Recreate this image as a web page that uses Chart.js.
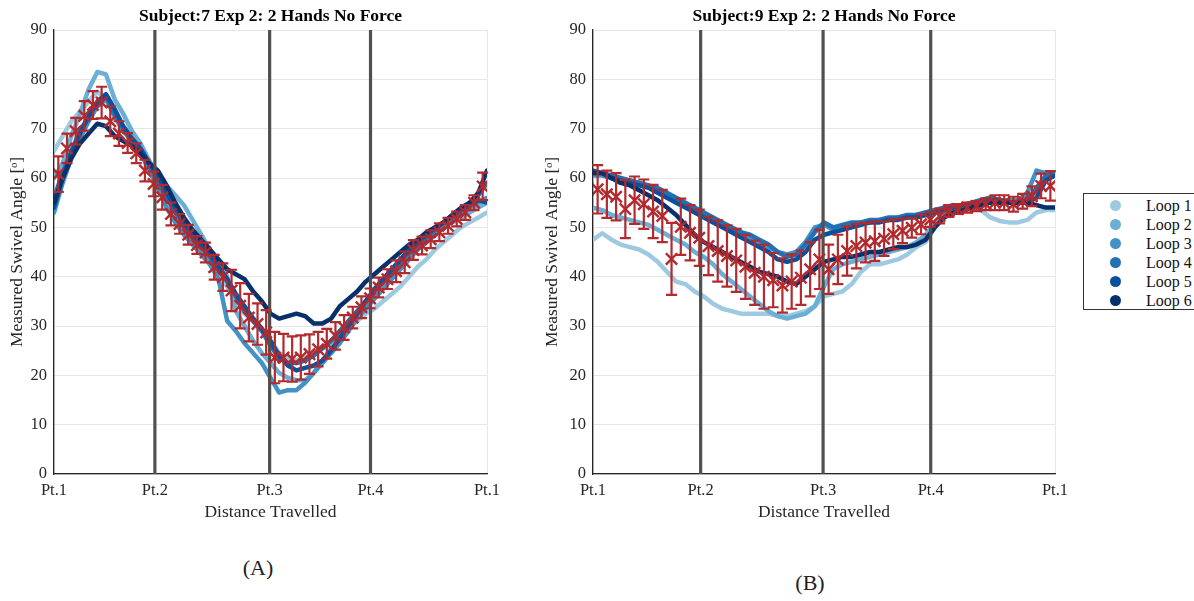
<!DOCTYPE html>
<html lang="en">
<head>
    <meta charset="UTF-8">
    <title>Measured Swivel Angle</title>
    <script src="https://cdn.jsdelivr.net/npm/chart.js"></script>
    <style>
        body {
            margin: 0;
            width: 1194px;
            height: 601px;
            position: relative;
            overflow: hidden;
            background: #fff;
            font-family: "Liberation Serif", serif;
        }

        .panel {
            position: absolute;
            top: 0;
        }

        .caption {
            position: absolute;
            font-size: 22px;
            color: #222;
            transform: translate(-50%, -50%);
        }

        #legend {
            position: absolute;
            left: 1083px;
            top: 193px;
            width: 130px;
            height: 117px;
            border: 1px solid #333;
            box-sizing: border-box;
            padding-top: 2px;
        }

        .legend-row {
            height: 19px;
            position: relative;
            font-size: 16px;
            color: #111;
        }

        .legend-dot {
            position: absolute;
            left: 26px;
            top: 4px;
            width: 11px;
            height: 11px;
            border-radius: 50%;
        }

        .legend-text {
            position: absolute;
            left: 62px;
            top: 0;
            line-height: 19px;
        }
    </style>
</head>
<body>
<div class="panel" style="left:0;"><canvas id="chartA" width="510" height="530"></canvas></div>
<div class="panel" style="left:540px;"><canvas id="chartB" width="540" height="530"></canvas></div>
<div class="caption" style="left:258px; top:568px;">(A)</div>
<div class="caption" style="left:810px; top:583px;">(B)</div>
<div id="legend"></div>

<script>
    // x positions (% of distance travelled)
    const xGrid = [0, 2, 4, 6, 8, 10, 12, 14, 16, 18, 20, 22, 24, 26, 28, 30, 32, 34, 36, 38, 40, 42, 44, 46, 48, 50,
        52, 54, 56, 58, 60, 62, 64, 66, 68, 70, 72, 74, 76, 78, 80, 82, 84, 86, 88, 90, 92, 94, 96, 98, 100];
    const meanX = [1, 3, 5, 7, 9, 11, 13, 15, 17, 19, 21, 23, 25, 27, 29, 31, 33, 35, 37, 39, 41, 43, 45, 47, 49,
        51, 53, 55, 57, 59, 61, 63, 65, 67, 69, 71, 73, 75, 77, 79, 81, 83, 85, 87, 89, 91, 93, 95, 97, 99];

    const ptPos = [0, 23.3, 49.8, 73.1, 100];
    const ptLabels = ['Pt.1', 'Pt.2', 'Pt.3', 'Pt.4', 'Pt.1'];
    const yRange = [0, 90];

    const loopNames = ['Loop 1', 'Loop 2', 'Loop 3', 'Loop 4', 'Loop 5', 'Loop 6'];
    const loopColors = ['#9ecae1', '#6baed6', '#4292c6', '#2171b5', '#08519c', '#08306b'];

    // Subject 7
    const s7Loop1 = [65.5, 68.5, 71.5, 73.5, 75.5, 77.5, 76, 73, 70.5, 68.5, 66, 62, 58.5, 55, 52, 49.5, 47, 45, 43, 41,
        38, 35, 32.5, 31, 29, 27, 24.5, 23.5, 23, 23.5, 24.5, 25.5, 26.5, 28, 29.5, 31, 32.5, 33.5, 35, 36.5, 38, 40, 42,
        43.5, 45.5, 47, 48.5, 50, 51, 52, 53];
    const s7Loop2 = [60, 63, 68.5, 73, 78, 81.5, 81, 76, 73, 69.5, 67, 63.5, 60.5, 58.5, 56.5, 54.5, 51.5, 48.5, 45.5, 43,
        40, 33, 30, 27, 24.5, 22.5, 20.5, 19.5, 19, 19, 20.5, 23, 25.5, 28, 30, 32, 34, 36, 38, 40, 42, 44, 45.5, 47,
        48.5, 50, 51, 52, 53, 54, 55];
    const s7Loop3 = [53, 59, 64, 68, 71.5, 74.5, 76, 72.5, 69.5, 67.5, 65, 61.5, 58, 54, 51, 48.5, 46.5, 44.5, 42.5, 39.5,
        31, 29, 26.5, 24.5, 22.5, 19.5, 16.5, 17, 17, 18.5, 20.5, 22.5, 24.5, 26.5, 29, 31.5, 33.5, 35.5, 37.5, 39.5,
        41.5, 43.5, 45.5, 47, 48.5, 50, 51.5, 52.5, 54, 55, 56];
    const s7Loop4 = [56, 61, 65.5, 69.5, 72.5, 75, 76.5, 73, 70, 67.5, 65.5, 62.5, 59.5, 56, 53, 50.5, 48, 46, 44, 41.5,
        39, 36, 33, 31, 29, 26, 23.5, 22.5, 22.5, 23, 24, 25.5, 27, 29, 31, 33, 35, 37, 39, 41, 43, 45, 46.5, 48, 49.5,
        51, 52, 53.5, 55, 56.5, 59];
    const s7Loop5 = [54, 60, 65, 69, 72.5, 75.5, 77, 74, 70.5, 68, 66, 63, 60.5, 57, 54, 51, 48.5, 46.5, 44.5, 42, 39.5,
        36.5, 34, 31.5, 29.5, 27, 24, 22, 21, 21.5, 22, 23, 25, 27.5, 30, 32.5, 35, 37.5, 39.5, 41.5, 43.5, 45.5, 47,
        48.5, 50, 51, 52.5, 53.5, 54.5, 55.5, 55];
    const s7Loop6 = [55, 60, 64, 67, 69, 71, 70.5, 68.5, 67.5, 66.5, 65, 63, 61.5, 58.5, 55, 52, 49.5, 47.5, 45.5, 43.5,
        41.5, 40.5, 39.5, 37, 35, 32.5, 31.5, 32, 32.5, 32, 30.5, 30.5, 31.5, 34, 35.5, 37, 39, 40.5, 42, 43.5, 45, 46.5,
        47.5, 49, 50, 51, 52.5, 54, 55, 57, 61.5];
    const s7Mean = [60.8, 66, 69.5, 72.6, 74.8, 75.3, 71.5, 69, 67.1, 65, 61.5, 58.8, 56.1, 52.7, 50.7, 48.5, 46.4, 44.9,
        41.9, 39.9, 37.2, 34.1, 31.7, 30.4, 28.7, 23.6, 23.6, 23.3, 23.6, 24.3, 25.3, 26.4, 28, 29.7, 31.7, 33.8, 35.6,
        37.8, 39.5, 41.1, 42.9, 45.4, 46.3, 47.6, 49, 50.3, 51.7, 53, 55, 58.3];
    const s7Err = [3.6, 3, 2.7, 3, 2.8, 3.2, 3, 2.5, 2, 2, 2.2, 2.5, 2.5, 2.3, 2, 2, 1.8, 2, 2.5, 2.8, 4.2, 4.6, 4.8, 4.2,
        4.5, 5.2, 4.8, 4.6, 4.5, 4, 3.5, 3, 2.8, 2.5, 2.2, 2.2, 2, 2, 2, 2.2, 2.2, 2, 1.8, 1.8, 1.8, 1.6, 1.5, 1.5, 1.5,
        2.8];

    // Subject 9
    const s9Loop1 = [47.5, 48.8, 47.5, 46.5, 46, 45.5, 44.5, 43, 41, 39, 38.5, 37, 36, 34.5, 33.5, 33, 32.5, 32.5, 32.5,
        32.5, 32, 32, 32.5, 33, 34, 36, 36.5, 37, 38.5, 41, 42.5, 42.5, 43, 43.5, 44.5, 46, 47, 50, 52, 53, 53.5, 54,
        53.5, 52, 51.3, 51, 51, 51.5, 53, 53.5, 53.5];
    const s9Loop2 = [54, 53.5, 52.5, 52, 51.5, 51, 50.5, 49.5, 48.5, 47.5, 46.5, 45, 44, 42.5, 40.5, 39, 37.5, 36, 34.5,
        33, 32, 31.5, 32, 32.5, 34, 38, 41.5, 42.5, 43, 43.5, 44, 44.5, 45, 45.5, 46, 47, 48.5, 51, 52.5, 53.5, 54, 54.5,
        55, 55.5, 55, 55, 55, 55.5, 57.5, 60, 60.5];
    const s9Loop3 = [60.5, 60.5, 60, 59.5, 59.5, 59, 58.5, 57.5, 56.5, 55.5, 54.5, 53.5, 52.5, 51.5, 50.5, 49.5, 49, 48,
        47, 46, 45, 44.5, 45, 47, 50, 50.5, 49.5, 50, 50.5, 51, 51, 51.5, 51.5, 52, 52, 52.5, 53, 53.5, 54, 54.5, 54.5,
        55, 55.5, 56, 55.5, 55.5, 55.5, 57, 61.5, 61, 60.5];
    const s9Loop4 = [61, 61, 60.5, 60, 59.5, 59, 58.5, 58, 57, 56, 55, 54, 53, 52, 51, 50, 49, 48.5, 47.5, 46.5, 45, 44,
        44.5, 46.5, 49, 51, 50, 50.5, 51, 51, 51.5, 51.5, 52, 52, 52.5, 52.5, 53, 53.5, 54, 54.5, 54.5, 55, 55.5, 56,
        55.5, 55, 55, 55.5, 58, 60.5, 61];
    const s9Loop5 = [61.5, 61, 60, 59.5, 59, 58.5, 58, 57, 56, 55, 54, 53, 52, 51, 50, 49, 48, 47, 46, 45, 43.5, 43, 43.5,
        45, 47.5, 48.5, 49, 49.5, 50, 50.5, 51, 51, 51.5, 51.5, 52, 52, 52.5, 53, 53.5, 54, 54.5, 54.5, 55, 55.5, 55.5,
        55, 55, 55, 56, 59.5, 60.5];
    const s9Loop6 = [61, 61, 60, 59, 58.5, 57.5, 56.5, 55.5, 54, 52.5, 50.5, 48.5, 47, 46, 45, 44, 43, 42, 41, 40.5, 40,
        39, 38.5, 40, 41.5, 43, 43.5, 44, 44, 44.5, 45, 45, 45.5, 46, 46, 46.5, 47.5, 50, 52, 53, 53.5, 54, 54.5, 55, 55,
        55, 55, 55, 54.5, 54, 54];
    const s9Mean = [57.7, 56.7, 56.2, 53.7, 55.5, 54.7, 53.2, 52.3, 43.6, 50.1, 48.9, 47.9, 46.2, 45.2, 44.2, 43.3, 42,
        40.8, 40, 39.3, 38.2, 39, 39.8, 41.5, 43.5, 41.5, 43.5, 45.2, 46.2, 46.9, 47.2, 47.7, 48.6, 49.3, 49.9, 50.6,
        51.6, 52.3, 53.3, 53.7, 54, 54.3, 54.7, 55, 55, 54.7, 55.3, 56.3, 58.4, 58.4];
    const s9Err = [4.9, 4.8, 4.8, 5.9, 4.8, 5, 5.4, 5.3, 7.3, 5.7, 5.6, 5.7, 5.9, 6.2, 6.2, 6.4, 6.5, 6.5, 6.5, 5.5, 5.5,
        5.5, 5.5, 5.5, 6, 5, 5, 5, 4.5, 4, 4, 3.5, 3, 2.5, 2, 2, 1.5, 1.5, 1.2, 1, 1, 1, 1.2, 1.5, 1.5, 1.5, 1.5, 2, 2.5,
        3];

    const serif = 'Liberation Serif';
    const red = '#b2292e';
    const axisColor = '#262626';
    const gridColor = '#e6e6e6';

    // draws the vertical error bars of any dataset that carries an "errors" array
    const errorBarPlugin = {
        id: 'errorBars',
        afterDatasetsDraw(chart) {
            const ctx = chart.ctx;
            const xs = chart.scales.x, ys = chart.scales.y;
            chart.data.datasets.forEach(ds => {
                if (!ds.errors) return;
                ctx.save();
                ctx.strokeStyle = ds.borderColor;
                ctx.lineWidth = 2.2;
                ds.data.forEach((p, i) => {
                    const px = xs.getPixelForValue(p.x);
                    const top = ys.getPixelForValue(p.y + ds.errors[i]);
                    const bot = ys.getPixelForValue(p.y - ds.errors[i]);
                    ctx.beginPath();
                    ctx.moveTo(px, top);
                    ctx.lineTo(px, bot);
                    ctx.moveTo(px - 5.5, top);
                    ctx.lineTo(px + 5.5, top);
                    ctx.moveTo(px - 5.5, bot);
                    ctx.lineTo(px + 5.5, bot);
                    ctx.stroke();
                });
                ctx.restore();
            });
        }
    };

    function buildDatasets(loops, mean, err) {
        const sets = [{
            label: 'Mean',
            data: meanX.map((x, i) => ({x, y: mean[i]})),
            showLine: false,
            pointStyle: 'crossRot',
            pointRadius: 8,
            pointBorderWidth: 2.4,
            borderColor: red,
            backgroundColor: red,
            errors: err,
            order: 0
        }];
        ptPos.slice(1, 4).forEach(p => sets.push({
            label: 'marker',
            data: yRange.map(y => ({x: p, y})),
            borderColor: '#505050',
            borderWidth: 3.2,
            pointRadius: 0,
            order: 1
        }));
        loops.forEach((vals, i) => sets.push({
            label: loopNames[i],
            data: xGrid.map((x, j) => ({x, y: vals[j]})),
            borderColor: loopColors[i],
            backgroundColor: loopColors[i],
            borderWidth: 4.5,
            pointRadius: 0,
            borderJoinStyle: 'round',
            borderCapStyle: 'round',
            order: 2 + (loops.length - 1 - i)
        }));
        return sets;
    }

    function createChart(canvasId, title, loops, mean, err, yWidth, yTitlePad, rightPad) {
        return new Chart(document.getElementById(canvasId), {
            type: 'line',
            data: {datasets: buildDatasets(loops, mean, err)},
            plugins: [errorBarPlugin],
            options: {
                responsive: false,
                animation: false,
                devicePixelRatio: 1,
                layout: {padding: {left: 0, right: rightPad, top: 0, bottom: 0}},
                plugins: {
                    legend: {display: false},
                    tooltip: {enabled: false},
                    title: {
                        display: true,
                        text: title,
                        fullSize: false,
                        color: '#000',
                        font: {family: serif, size: 17.5, weight: 'bold'},
                        padding: {top: 5.5, bottom: 3.5}
                    }
                },
                scales: {
                    x: {
                        type: 'linear',
                        min: 0,
                        max: 100,
                        afterBuildTicks: s => {
                            s.ticks = ptPos.map(v => ({value: v}));
                        },
                        afterFit: s => {
                            s.height = 56;
                        },
                        ticks: {
                            autoSkip: false,
                            maxRotation: 0,
                            padding: 7,
                            color: axisColor,
                            font: {family: serif, size: 16.5},
                            callback: (v, i) => ptLabels[i]
                        },
                        grid: {color: gridColor, drawTicks: false},
                        border: {color: axisColor, width: 1.3},
                        title: {
                            display: true,
                            text: 'Distance Travelled',
                            color: axisColor,
                            font: {family: serif, size: 17.5},
                            padding: {top: 0, bottom: 7.5}
                        }
                    },
                    y: {
                        min: yRange[0],
                        max: yRange[1],
                        afterFit: s => {
                            s.width = yWidth;
                        },
                        ticks: {
                            stepSize: 10,
                            padding: 7,
                            color: axisColor,
                            font: {family: serif, size: 16.5}
                        },
                        grid: {color: gridColor, drawTicks: false},
                        border: {color: axisColor, width: 1.3},
                        title: {
                            display: true,
                            text: 'Measured Swivel Angle [ᵒ]',
                            color: axisColor,
                            font: {family: serif, size: 17.5},
                            padding: {top: yTitlePad, bottom: 0}
                        }
                    }
                }
            }
        });
    }

    createChart('chartA', 'Subject:7 Exp 2: 2 Hands No Force',
        [s7Loop1, s7Loop2, s7Loop3, s7Loop4, s7Loop5, s7Loop6], s7Mean, s7Err, 54, 6.5, 23);
    createChart('chartB', 'Subject:9 Exp 2: 2 Hands No Force',
        [s9Loop1, s9Loop2, s9Loop3, s9Loop4, s9Loop5, s9Loop6], s9Mean, s9Err, 53, 1.5, 25);

    const legend = document.getElementById('legend');
    loopNames.forEach((name, i) => {
        const row = document.createElement('div');
        row.className = 'legend-row';
        row.innerHTML = '<span class="legend-dot" style="background:' + loopColors[i] + '"></span>' +
            '<span class="legend-text">' + name + '</span>';
        legend.appendChild(row);
    });
</script>
</body>
</html>
